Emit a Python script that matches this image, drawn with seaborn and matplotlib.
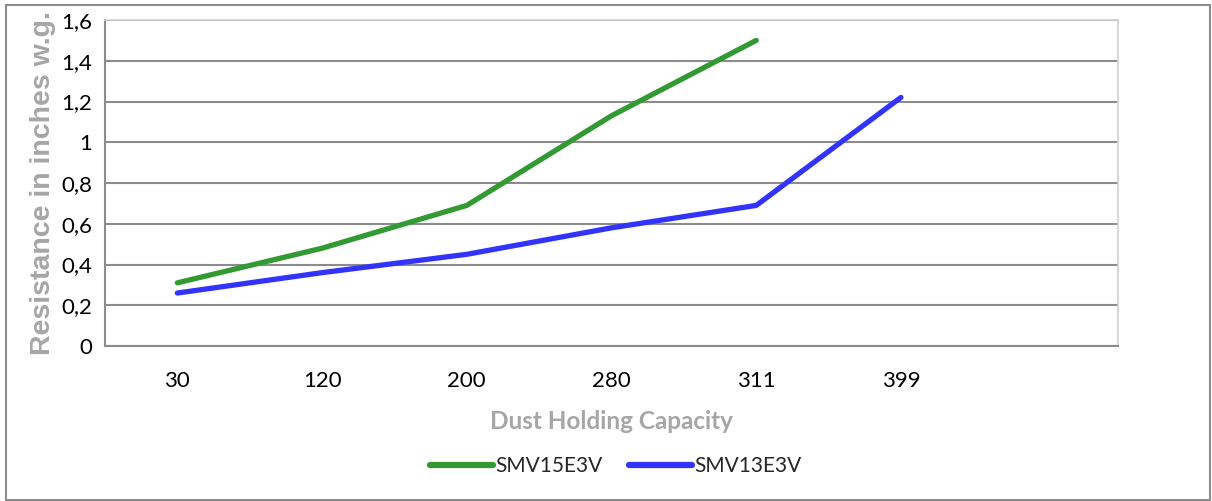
import matplotlib
matplotlib.use("Agg")
import matplotlib.pyplot as plt
import seaborn as sns
import pandas as pd
from matplotlib.patches import Rectangle
from matplotlib.lines import Line2D

categories = ["30", "120", "200", "280", "311", "399"]
smv15e3v = [0.31, 0.48, 0.69, 1.13, 1.50]
smv13e3v = [0.26, 0.36, 0.45, 0.58, 0.69, 1.22]
y_ticks = [0, 0.2, 0.4, 0.6, 0.8, 1.0, 1.2, 1.4, 1.6]
y_tick_labels = ["0", "0,2", "0,4", "0,6", "0,8", "1", "1,2", "1,4", "1,6"]

rows = []
for i, v in enumerate(smv15e3v):
    rows.append({"pos": i, "val": v, "series": "SMV15E3V"})
for i, v in enumerate(smv13e3v):
    rows.append({"pos": i, "val": v, "series": "SMV13E3V"})
df = pd.DataFrame(rows)

sns.set_theme(style="white")
plt.rcParams["font.family"] = ["Lato", "DejaVu Sans"]

fig = plt.figure(figsize=(12.12, 5.01), dpi=100)
ax = fig.add_axes([105 / 1212, 1 - 346 / 501, (1118 - 105) / 1212, (346 - 20) / 501])

sns.lineplot(data=df, x="pos", y="val", hue="series",
             palette={"SMV15E3V": "#339933", "SMV13E3V": "#3333FF"},
             linewidth=3.8, ax=ax, legend=False, solid_capstyle="round",
             solid_joinstyle="round", sort=False)

ax.set_xlim(-0.5, 6.5)
ax.set_ylim(0, 1.6)
ax.set_yticks(y_ticks)
ax.set_yticklabels(y_tick_labels, fontsize=16, color="black")
ax.set_xticks(range(len(categories)))
ax.set_xticklabels(categories, fontsize=16, color="black")
ax.tick_params(axis="y", length=0, pad=9)
ax.tick_params(axis="x", length=0, pad=18)
ax.yaxis.grid(True, color="#8c8c8c", linewidth=1.5)
ax.set_axisbelow(True)
for side in ["left", "bottom"]:
    ax.spines[side].set_color("#8c8c8c")
    ax.spines[side].set_linewidth(1.5)
for side in ["top", "right"]:
    ax.spines[side].set_color("#d0d0d0")
    ax.spines[side].set_linewidth(1.2)

ax.set_xlabel("Dust Holding Capacity", fontsize=17.5, fontweight="bold", color="#a6a6a6", labelpad=14)
ax.set_ylabel("Resistance in inches w.g.", fontsize=20.5, fontweight="bold", color="#a6a6a6",
              family=["Liberation Sans", "DejaVu Sans"], labelpad=4)

handles = [Line2D([0], [0], color="#339933", lw=4.5),
           Line2D([0], [0], color="#3333FF", lw=4.5)]
fig.legend(handles, ["SMV15E3V", "SMV13E3V"], loc="center", bbox_to_anchor=(0.508, 1 - 466 / 501),
           ncol=2, frameon=False, fontsize=15, handlelength=3.0, handletextpad=0.1,
           columnspacing=1.3)

fig.patches.append(Rectangle((6 / 1212, 0.002), 1 - 8 / 1212, 1 - 5 / 501 - 0.002,
                             transform=fig.transFigure, fill=False,
                             edgecolor="#8c8c8c", linewidth=1.5))

fig.savefig("out.png", dpi=100)
